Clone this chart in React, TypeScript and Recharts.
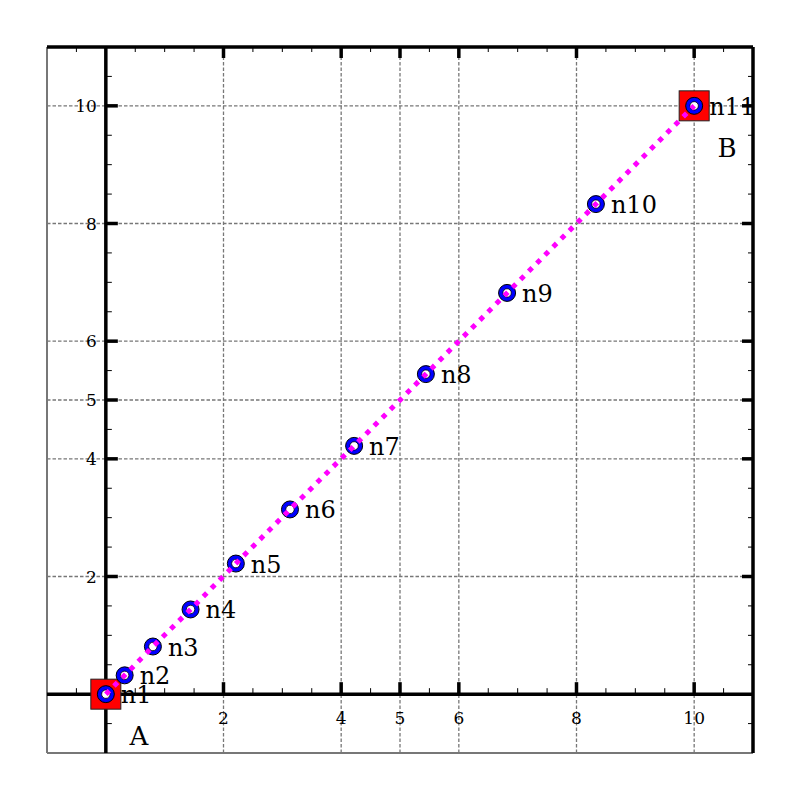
import React from 'react';
import { ComposedChart, XAxis, YAxis, Scatter, ReferenceLine } from 'recharts';

const DOMAIN = [-1, 11];
const MAJOR_TICKS = [2, 4, 5, 6, 8, 10];
const MINOR_TICKS = [-0.5, 0.5, 1, 1.5, 2.5, 3, 3.5, 4.5, 5.5, 6.5, 7, 7.5, 8.5, 9, 9.5, 10.5];

const NODE_NAMES = ['n1', 'n2', 'n3', 'n4', 'n5', 'n6', 'n7', 'n8', 'n9', 'n10', 'n11'];
const NODE_X = [0, 0.32, 0.8, 1.44, 2.21, 3.13, 4.22, 5.44, 6.82, 8.33, 10];
const NODE_Y = [0, 0.32, 0.81, 1.44, 2.22, 3.14, 4.22, 5.44, 6.82, 8.33, 10];

const END_NAMES = ['A', 'B'];
const END_X = [0, 10];
const END_Y = [0, 10];

const FONT = '"DejaVu Serif", serif';

const nodes = NODE_NAMES.map((name, i) => ({ name, x: NODE_X[i], y: NODE_Y[i] }));
const ends = END_NAMES.map((name, i) => ({ name, x: END_X[i], y: END_Y[i] }));

// tick mark positions along the axes and the top/right frame
const xAxisMajor = MAJOR_TICKS.map((v) => ({ x: v, y: 0 }));
const xAxisMinor = MINOR_TICKS.map((v) => ({ x: v, y: 0 }));
const yAxisMajor = MAJOR_TICKS.map((v) => ({ x: 0, y: v }));
const yAxisMinor = MINOR_TICKS.map((v) => ({ x: 0, y: v }));
const topMajor = MAJOR_TICKS.map((v) => ({ x: v, y: DOMAIN[1] }));
const topMinor = MINOR_TICKS.map((v) => ({ x: v, y: DOMAIN[1] }));
const rightMajor = MAJOR_TICKS.map((v) => ({ x: DOMAIN[1], y: v }));
const rightMinor = MINOR_TICKS.map((v) => ({ x: DOMAIN[1], y: v }));

const tickShape = (dx: number, dy: number, w: number, label?: 'x' | 'y') => (props: any) => {
  const { cx, cy, payload } = props;
  return (
    <g>
      <line x1={cx} y1={cy} x2={cx + dx} y2={cy + dy} stroke="#000" strokeWidth={w} />
      {label === 'x' && (
        <text x={cx} y={cy + 24} textAnchor="middle" dominantBaseline="central" fontFamily={FONT} fontSize={17} fill="#000">
          {payload.x}
        </text>
      )}
      {label === 'y' && (
        <text x={cx - 9} y={cy} textAnchor="end" dominantBaseline="central" fontFamily={FONT} fontSize={17} fill="#000">
          {payload.y}
        </text>
      )}
    </g>
  );
};

const nodeShape = (props: any) => {
  const { cx, cy, payload } = props;
  return (
    <g>
      <circle cx={cx} cy={cy} r={8.5} fill="#0000ff" stroke="#000" strokeWidth={1} />
      <circle cx={cx} cy={cy} r={4.2} fill="#fff" stroke="#000" strokeWidth={0.8} />
      <text x={cx + 15} y={cy + 9} fontFamily={FONT} fontSize={24} fill="#000">
        {payload.name}
      </text>
    </g>
  );
};

const endShape = (props: any) => {
  const { cx, cy, payload } = props;
  return (
    <g>
      <rect x={cx - 15} y={cy - 15} width={30} height={30} fill="#ff0000" stroke="#222" strokeWidth={1} />
      <text x={cx + 33} y={cy + 42} textAnchor="middle" dominantBaseline="central" fontFamily={FONT} fontSize={26} fill="#000">
        {payload.name}
      </text>
    </g>
  );
};

const noShape = () => <g />;

export default function App() {
  return (
    <div style={{ position: 'absolute', left: 0, top: 0, background: '#fff' }}>
      <ComposedChart width={800} height={800} margin={{ top: 47, right: 47, bottom: 47, left: 47 }}>
        <XAxis dataKey="x" type="number" domain={DOMAIN} allowDataOverflow hide />
        <YAxis dataKey="y" type="number" domain={DOMAIN} allowDataOverflow hide />

        {MAJOR_TICKS.map((v) => (
          <ReferenceLine key={`gx${v}`} x={v} stroke="#777" strokeWidth={1.3} strokeDasharray="3.5 2" />
        ))}
        {MAJOR_TICKS.map((v) => (
          <ReferenceLine key={`gy${v}`} y={v} stroke="#777" strokeWidth={1.3} strokeDasharray="3.5 2" />
        ))}

        <ReferenceLine x={DOMAIN[0]} stroke="#777" strokeWidth={2} />
        <ReferenceLine y={DOMAIN[0]} stroke="#777" strokeWidth={2} />
        <ReferenceLine x={DOMAIN[1]} stroke="#000" strokeWidth={3.5} />
        <ReferenceLine y={DOMAIN[1]} stroke="#000" strokeWidth={3.5} />
        <ReferenceLine x={0} stroke="#000" strokeWidth={3.5} />
        <ReferenceLine y={0} stroke="#000" strokeWidth={3.5} />

        <Scatter data={xAxisMajor} shape={tickShape(0, -12, 3.5, 'x')} isAnimationActive={false} />
        <Scatter data={xAxisMinor} shape={tickShape(0, -6, 1)} isAnimationActive={false} />
        <Scatter data={yAxisMajor} shape={tickShape(12, 0, 3.5, 'y')} isAnimationActive={false} />
        <Scatter data={yAxisMinor} shape={tickShape(6, 0, 1)} isAnimationActive={false} />
        <Scatter data={topMajor} shape={tickShape(0, 11, 3.5)} isAnimationActive={false} />
        <Scatter data={topMinor} shape={tickShape(0, 5, 1)} isAnimationActive={false} />
        <Scatter data={rightMajor} shape={tickShape(-11, 0, 3.5)} isAnimationActive={false} />
        <Scatter data={rightMinor} shape={tickShape(-5, 0, 1)} isAnimationActive={false} />

        <Scatter data={ends} shape={endShape} isAnimationActive={false} />
        <Scatter data={nodes} shape={nodeShape} isAnimationActive={false} />
        <Scatter
          data={nodes}
          shape={noShape}
          line={{ stroke: '#ff00ff', strokeWidth: 5, strokeDasharray: '5 6.5', fill: 'none' }}
          isAnimationActive={false}
        />
      </ComposedChart>
    </div>
  );
}
